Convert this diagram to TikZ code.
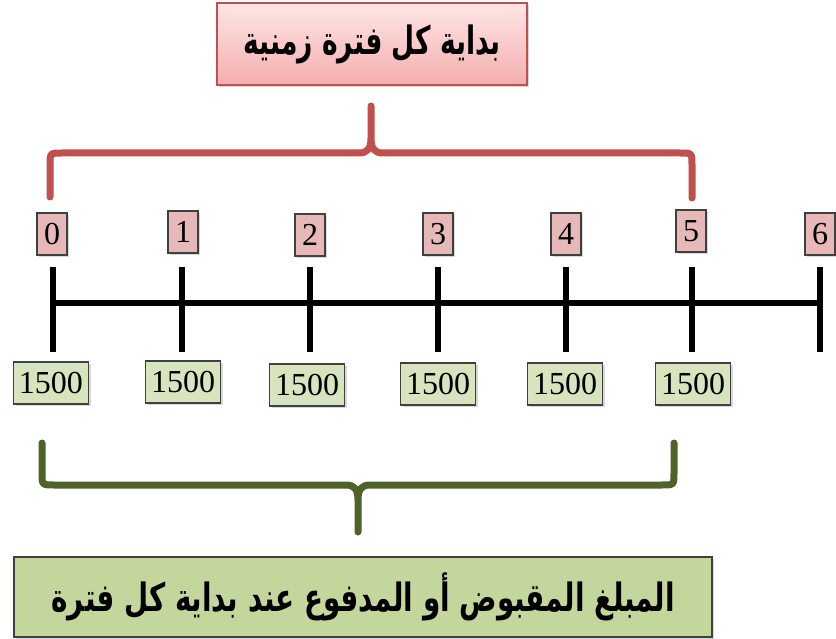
\documentclass[tikz,border=0pt]{standalone}
\usepackage{fontspec}
\setmainfont{Liberation Serif}
\newfontfamily\arabicfont[Script=Arabic]{DejaVu Sans}
\TeXXeTstate=1
\usetikzlibrary{shadows}
\definecolor{redline}{HTML}{C0504D}
\definecolor{greenline}{HTML}{4F6228}
\definecolor{numred}{HTML}{E6B8B7}
\definecolor{numgreen}{HTML}{D7E4BD}
\definecolor{boxgreen}{HTML}{C3D69B}
\definecolor{boxborder}{HTML}{404040}
\definecolor{pinktop}{HTML}{FFE6E6}
\definecolor{pinkbot}{HTML}{F4AEAE}
\tikzset{
  shad/.style={drop shadow={shadow xshift=2pt,shadow yshift=-2pt,opacity=0.3}},
  numbox/.style={draw=boxborder, line width=1.2pt, font=\fontsize{32}{34}\selectfont,
     inner xsep=5pt, inner ysep=0pt, minimum height=42pt, shad},
  toplab/.style={numbox, fill=numred, minimum width=30pt},
  botlab/.style={numbox, fill=numgreen, minimum width=75pt, inner xsep=3pt},
  axis/.style={line width=6pt, black},
  tick/.style={line width=6pt, black},
  rbrace/.style={line width=7pt, redline, line cap=round, line join=round},
  gbrace/.style={line width=7pt, greenline, line cap=round, line join=round},
}
\begin{document}
\begin{tikzpicture}[x=1pt,y=-1pt]
\useasboundingbox[fill=white] (0,0) rectangle (836,639);
% title boxes
\node[draw=redline, line width=1.5pt, top color=pinktop, bottom color=pinkbot,
      minimum width=310pt, minimum height=82pt, shad,
      font=\arabicfont\bfseries\fontsize{26}{30}\selectfont] (title) at (372,44)
      {\scalebox{1.02}[1.5]{\beginR بداية كل فترة زمنية\endR}};
\node[draw=boxborder, line width=1.5pt, fill=boxgreen,
      minimum width=698pt, minimum height=80pt, shad,
      font=\arabicfont\bfseries\fontsize{26}{30}\selectfont] (caption) at (363,597)
      {\scalebox{1.07}[1.5]{\beginR المبلغ المقبوض أو المدفوع عند بداية كل فترة\endR}};
% axis coordinates
\foreach \i/\x in {0/53,1/182,2/310,3/438,4/566,5/692,6/820}{
  \coordinate (t\i) at (\x,303);
  \coordinate (u\i) at (\x,267);
  \coordinate (d\i) at (\x,352);
}
\draw[axis] (t0) -- (t6);
\foreach \i in {0,...,6}{ \draw[tick] (u\i) -- (d\i); }
% period labels
\node[toplab] (p0) at (52,234) {0};
\node[toplab] (p1) at (183,232) {1};
\node[toplab] (p2) at (310,235) {2};
\node[toplab] (p3) at (438,234) {3};
\node[toplab] (p4) at (566,234) {4};
\node[toplab] (p5) at (691,231) {5};
\node[toplab] (p6) at (820,234) {6};
% amounts
\node[botlab] (a0) at (51,383) {1500};
\node[botlab] (a1) at (183,382) {1500};
\node[botlab] (a2) at (307,385) {1500};
\node[botlab] (a3) at (438,384) {1500};
\node[botlab] (a4) at (565,384) {1500};
\node[botlab] (a5) at (693,384) {1500};
% red brace
\coordinate (rl) at (50,197);
\coordinate (rr) at (692,198);
\coordinate (rtip) at (371,106);
\draw[rbrace] (rl) -- (50,165) .. controls (50,153) .. (62,153) -- (359,153)
   .. controls (368,153) and (371,148) .. (371,138) -- (rtip)
   (371,138) .. controls (371,148) and (374,153) .. (383,153)
   -- (680,153) .. controls (692,153) .. (692,165) -- (rr);
% green brace
\coordinate (gl) at (42,443);
\coordinate (gr) at (674,443);
\coordinate (gtip) at (358,532);
\draw[gbrace] (gl) -- (42,473) .. controls (42,485) .. (54,485) -- (346,485)
   .. controls (355,485) and (358,490) .. (358,500) -- (gtip)
   (358,500) .. controls (358,490) and (361,485) .. (370,485)
   -- (662,485) .. controls (674,485) .. (674,473) -- (gr);
\end{tikzpicture}
\end{document}
